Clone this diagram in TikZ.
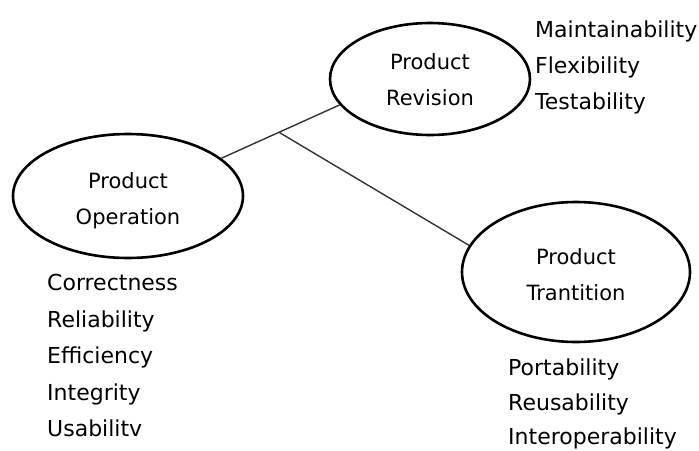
\documentclass[tikz,border=0pt]{standalone}
\usepackage{fontspec}
\setmainfont{DejaVu Sans}
\usetikzlibrary{shapes.geometric,calc}
\begin{document}
\begin{tikzpicture}[x=1pt,y=-1pt,
  oval/.style={draw=black, line width=2.6pt, ellipse, inner sep=0pt},
  ovaltext/.style={align=center, inner sep=0pt, font=\fontsize{21}{36}\selectfont},
  item/.style={anchor=base west, inner sep=0pt, font=\fontsize{22}{26}\selectfont},
  link/.style={draw=black!80, line width=1.4pt}]
\useasboundingbox (0,0) rectangle (699,450);
\node[oval, minimum width=200pt, minimum height=112pt,
  label={[ovaltext, yshift=-1pt]center:{Product\\Revision}}] (rev) at (430,79) {};
\node[oval, minimum width=230pt, minimum height=124pt,
  label={[ovaltext, yshift=-5pt]center:{Product\\Operation}}] (op) at (128,196) {};
\node[oval, minimum width=228pt, minimum height=140pt,
  label={[ovaltext, yshift=-3pt]center:{Product\\Trantition}}] (tr) at (576,272) {};
\draw[link] (op.22.7) -- (rev.196.7);
\coordinate (j) at ($(op.22.7)!0.487!(rev.196.7)$);
\draw[link] (j) -- (tr.166.6);
\node[item] (r1) at (535,37) {Maintainability};
\node[item] (r2) at (535,73) {Flexibility};
\node[item] (r3) at (535,109) {Testability};
\node[item] (o1) at (47,290) {Correctness};
\node[item] (o2) at (47,327) {Reliability};
\node[item] (o3) at (47,363) {Efficiency};
\node[item] (o4) at (47,400) {Integrity};
\node[item] (o5) at (47,436) {Usabilitv};
\node[item] (t1) at (508,375) {Portability};
\node[item] (t2) at (508,410) {Reusability};
\node[item] (t3) at (508,444) {Interoperability};
\end{tikzpicture}
\end{document}
